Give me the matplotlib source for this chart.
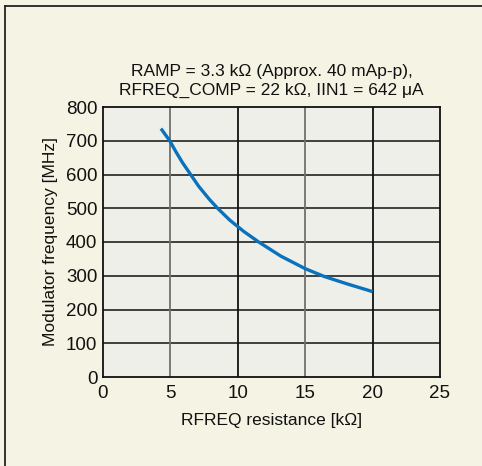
import matplotlib
matplotlib.use('Agg')
import matplotlib.pyplot as plt
from matplotlib.lines import Line2D

plt.rcParams['font.family'] = ['Liberation Sans', 'DejaVu Sans']

# curve
resistance_k = [4.3, 4.95, 5.4, 5.9, 6.5, 7.1, 7.9, 8.5, 9.4, 10.45, 11.55, 13.2,
                15.0, 16.4, 18.1, 20.0]
freq_mhz = [736, 700, 668, 635, 600, 565, 526, 500, 465, 431, 400, 358,
            321, 298, 276, 253]

x_ticks = [0, 5, 10, 15, 20, 25]
y_ticks = [0, 100, 200, 300, 400, 500, 600, 700, 800]

title_text = 'RAMP = 3.3 k\u03a9 (Approx. 40 mAp-p),\nRFREQ_COMP = 22 k\u03a9, IIN1 = 642 \u03bcA'
x_label = 'RFREQ resistance [k\u03a9]'
y_label = 'Modulator frequency [MHz]'

W, H = 482, 466
fig = plt.figure(figsize=(W / 100, H / 100), dpi=100, facecolor='#f5f3e4')

# outer frame (only left and top edges fall inside the picture)
fig.add_artist(Line2D([4.5 / W, 4.5 / W], [0, 1 - 6 / H], color='#222222', lw=1.3,
                      transform=fig.transFigure))
fig.add_artist(Line2D([4.5 / W, 1], [1 - 6 / H, 1 - 6 / H], color='#222222', lw=1.3,
                      transform=fig.transFigure))

ax = fig.add_axes([103 / W, 1 - 377 / H, 337 / W, 270 / H])
ax.set_facecolor('#efefea')

ax.set_xlim(0, 25)
ax.set_ylim(0, 800)
ax.set_xticks(x_ticks)
ax.set_yticks(y_ticks)

# grid
for yv in y_ticks[1:-1]:
    ax.axhline(yv, color='#111111', lw=1.1, zorder=1)
for xv in x_ticks[1:-1]:
    c = '#707070' if xv in (5, 15) else '#111111'
    ax.axvline(xv, color=c, lw=1.3, zorder=1)

ax.plot(resistance_k, freq_mhz, color='#0a72bc', lw=2.4, zorder=3,
        solid_capstyle='butt', solid_joinstyle='round')

for s in ax.spines.values():
    s.set_color('#111111')
    s.set_linewidth(1.3)

ax.tick_params(axis='y', length=0, pad=4, labelsize=13.5, colors='#111111')
ax.tick_params(axis='x', length=0, pad=6, labelsize=13.5, colors='#111111')
ax.set_xlabel(x_label, fontsize=12.5, labelpad=8, color='#111111')
ax.set_ylabel(y_label, fontsize=12.5, labelpad=6, color='#111111')
ax.set_title(title_text, fontsize=12.5, pad=9, color='#111111', linespacing=1.3)

fig.savefig('out.png', dpi=100, facecolor=fig.get_facecolor())
